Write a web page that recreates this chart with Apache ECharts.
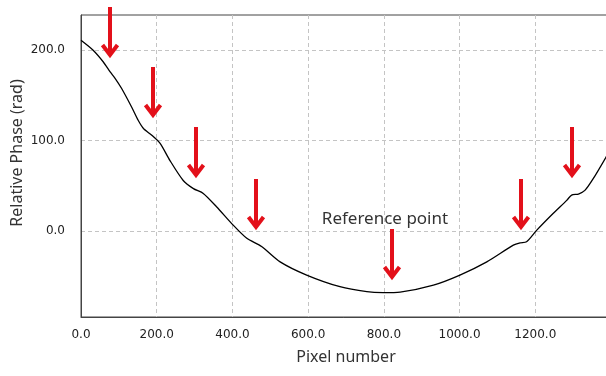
<!DOCTYPE html>
<html>
<head>
<meta charset="utf-8">
<script src="https://cdn.jsdelivr.net/npm/echarts@6/dist/echarts.min.js"></script>
<style>html,body{margin:0;padding:0;background:#fff}#c{width:606px;height:376px}</style>
</head>
<body>
<div id="c"></div>
<script>
// Curve samples: [pixel number, relative phase]
const pixelX = [0,32,59,77,90,107,134,151,165,187,209,235,270,297,323,358,402,438,477,526,596,684,755,798,843,931,1001,1072,1142,1160,1177,1204,1247,1283,1296,1314,1331,1353,1387,1400];
const phaseY = [211,200,187,176,169,158,137,122.6,113.5,106,97,78,56,47,41.7,27,6.6,-8,-17,-34,-48.6,-61.5,-67,-68,-67.4,-59.7,-48.6,-34,-15.5,-13,-11.8,1.1,19.5,34,39.8,41,45,58,82,92];
// Annotation arrows: tip position in data units, shaft length in px
const arrowX = [76.6,191,303.7,461.4,820.6,1161.4,1296];
const arrowTipY = [191,124.9,58.6,1.1,-54.1,1.1,58.6];
const arrowLen = [51,51,51,51,51,51,51];
const refLabel = {text:'Reference point', x:803, y:13.3};
const xTicks = [0,200,400,600,800,1000,1200];
const yTicks = [0,100,200];

const chart = echarts.init(document.getElementById('c'), null, {renderer:'canvas'});
const labelFont = {fontFamily:'DejaVu Sans', fontSize:12, color:'#222'};
const nameFont = {fontFamily:'Noto Sans', fontSize:16, color:'#333'};
chart.setOption({
  animation:false,
  backgroundColor:'#fff',
  grid:{left:81, top:15, right:-5, bottom:59, show:true, borderColor:'#444', borderWidth:1, containLabel:false, outerBoundsMode:'none'},
  xAxis:{
    type:'value', min:0, max:1400, interval:200,
    name:'Pixel number', nameLocation:'middle', nameGap:32, nameTextStyle:nameFont, nameMoveOverlap:false,
    axisLine:{show:true, onZero:false, lineStyle:{color:'#444'}}, axisTick:{show:false},
    axisLabel:Object.assign({margin:12, formatter:v => xTicks.includes(v) ? v.toFixed(1) : ''}, labelFont),
    splitLine:{show:true, lineStyle:{color:'#c4c4c4', type:[4,3]}}
  },
  yAxis:{
    type:'value', min:-95, max:239, splitNumber:3,
    name:'Relative Phase (rad)', nameLocation:'middle', nameGap:56, nameMoveOverlap:false,
    nameTextStyle:Object.assign({padding:[0,0,0,26]}, nameFont),
    axisLine:{show:true, onZero:false, lineStyle:{color:'#444'}}, axisTick:{show:false},
    axisLabel:Object.assign({margin:16, showMinLabel:false, showMaxLabel:false, formatter:v => yTicks.includes(v) ? v.toFixed(1) : ''}, labelFont),
    splitLine:{show:true, showMinLine:false, showMaxLine:false, lineStyle:{color:'#c4c4c4', type:[4,3]}}
  },
  series:[{
    type:'line', data:pixelX.map((x,i)=>[x,phaseY[i]]),
    showSymbol:false, smooth:0.25, lineStyle:{color:'#000', width:1.3}
  }]
});

const g = [];
arrowX.forEach((x,i)=>{
  const p = chart.convertToPixel({gridIndex:0}, [x, arrowTipY[i]]);
  const px = Math.round(p[0]), py = Math.round(p[1]);
  g.push({type:'line', shape:{x1:px, y1:py-arrowLen[i], x2:px, y2:py-5}, style:{stroke:'#e3101a', lineWidth:4}, z:10});
  g.push({type:'polyline', shape:{points:[[px-7.5,py-13],[px,py-3],[px+7.5,py-13]]}, style:{stroke:'#e3101a', lineWidth:4, fill:null, lineJoin:'miter'}, z:10});
});
const rp = chart.convertToPixel({gridIndex:0}, [refLabel.x, refLabel.y]);
g.push({type:'text', x:rp[0], y:rp[1], style:{text:refLabel.text, align:'center', verticalAlign:'middle', font:'17px "Noto Sans"', fill:'#333'}, z:10});
chart.setOption({graphic:g});
</script>
</body>
</html>
